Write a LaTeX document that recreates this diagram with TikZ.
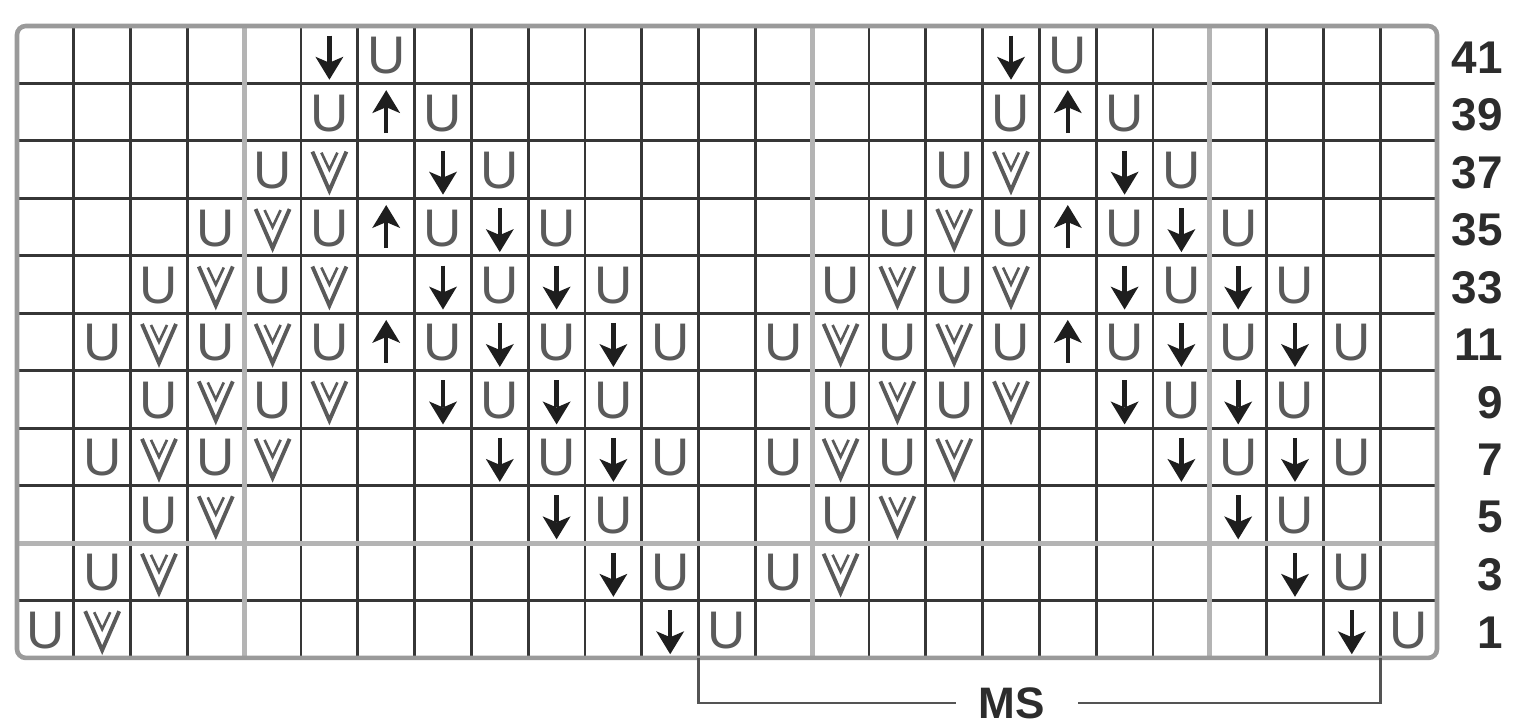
\documentclass[tikz,border=0pt]{standalone}
\usepackage{fontspec}
\setmainfont{Liberation Sans}
\usetikzlibrary{calc}
\definecolor{gridc}{HTML}{363636}
\definecolor{graylc}{HTML}{B4B4B4}
\definecolor{borderc}{HTML}{9A9A9A}
\definecolor{symc}{HTML}{5A5A5A}
\definecolor{arrc}{HTML}{1E1E1E}
\definecolor{labc}{HTML}{2C2C2C}
\tikzset{
  gridline/.style={draw=gridc, line width=1.6pt},
  grayline/.style={draw=graylc, line width=2.8pt},
  borderline/.style={draw=borderc, line width=2.6pt, rounded corners=5},
  usym/.style={text=symc, inner sep=0pt, font=\fontsize{30}{30}\selectfont},
  vsym/.style={draw=symc, line width=2.2pt, line join=miter},
  vinner/.style={draw=symc, line width=1.5pt},
  arrstem/.style={draw=arrc, line width=2.6pt},
  arrhead/.style={fill=arrc},
  rowlab/.style={text=labc, anchor=east, inner sep=0pt, font=\bfseries\fontsize{26}{26}\selectfont},
  mslab/.style={text=labc, inner sep=0pt, font=\bfseries\fontsize{25}{25}\selectfont},
  msline/.style={draw=gridc!85, line width=1.6pt}
}
\begin{document}
\begin{tikzpicture}[x=0.5669pt,y=-0.5669pt]
\useasboundingbox[fill=white] (0,0) rectangle (1519,727);
\def\X{17}\def\W{56.8}\def\Y{26}\def\H{57.45}
% grid
\foreach \i in {1,...,24}
  \draw[gridline] ({\X+\W*\i},\Y) -- ({\X+\W*\i},{\Y+11*\H});
\foreach \j in {1,...,10}
  \draw[gridline] (\X,{\Y+\H*\j}) -- ({\X+25*\W},{\Y+\H*\j});
\foreach \i in {4,14,21}
  \draw[grayline] ({\X+\W*\i},\Y) -- ({\X+\W*\i},{\Y+11*\H});
\draw[grayline] (\X,{\Y+\H*9}) -- ({\X+25*\W},{\Y+\H*9});
\draw[borderline] (\X,\Y) rectangle ({\X+25*\W},{\Y+11*\H});
% U symbols
\foreach \r/\cs in {1/{7,19},2/{6,8,18,20},3/{5,9,17,21},4/{4,6,8,10,16,18,20,22},
  5/{3,5,9,11,15,17,21,23},6/{2,4,6,8,10,12,14,16,18,20,22,24},7/{3,5,9,11,15,17,21,23},
  8/{2,4,10,12,14,16,22,24},9/{3,11,15,23},10/{2,12,14,24},11/{1,13,25}}
  \foreach \c in \cs
    \node[usym] (U-\r-\c) at ({\X+\W*(\c-0.5)},{\Y+\H*(\r-0.5)+1}) {U};
% V symbols
\foreach \r/\cs in {3/{6,18},4/{5,17},5/{4,6,16,18},6/{3,5,15,17},7/{4,6,16,18},
  8/{3,5,15,17},9/{4,16},10/{3,15},11/{2}}
  \foreach \c in \cs {
    \draw[vsym, shift={({\X+\W*(\c-0.5)},{\Y+\H*(\r-0.5)})}]
      (-17,-18) -- (0,21) -- (17,-18);
    \draw[vinner, shift={({\X+\W*(\c-0.5)},{\Y+\H*(\r-0.5)})}]
      (-8,-17) -- (0,0) -- (8,-17);
  }
% down arrows
\foreach \r/\cs in {1/{6,18},3/{8,20},4/{9,21},5/{8,10,20,22},6/{9,11,21,23},
  7/{8,10,20,22},8/{9,11,21,23},9/{10,22},10/{11,23},11/{12,24}}
  \foreach \c in \cs {
    \draw[arrstem, shift={({\X+\W*(\c-0.5)},{\Y+\H*(\r-0.5)})}] (0,-19) -- (0,8);
    \fill[arrhead, shift={({\X+\W*(\c-0.5)},{\Y+\H*(\r-0.5)})}]
      (0,25) -- (-14,2) -- (0,8) -- (14,2) -- cycle;
  }
% up arrows
\foreach \r/\cs in {2/{7,19},4/{7,19},6/{7,19}}
  \foreach \c in \cs {
    \draw[arrstem, shift={({\X+\W*(\c-0.5)},{\Y+\H*(\r-0.5)})}] (0,21) -- (0,-6);
    \fill[arrhead, shift={({\X+\W*(\c-0.5)},{\Y+\H*(\r-0.5)})}]
      (0,-22) -- (-14,1) -- (0,-5) -- (14,1) -- cycle;
  }
% row labels
\foreach \r/\t in {1/41,2/39,3/37,4/35,5/33,6/11,7/9,8/7,9/5,10/3,11/1}
  \node[rowlab] (row-\r) at (1503,{\Y+\H*(\r-0.5)+3}) {\t};
% MS bracket
\node[mslab] (ms) at (1012,703) {MS};
\coordinate (msL) at ({\X+12*\W},{\Y+11*\H});
\coordinate (msR) at ({\X+24*\W},{\Y+11*\H});
\draw[msline] (msL) |- ($(ms.west)+(-23,0)$);
\draw[msline] (msR) |- ($(ms.east)+(33,0)$);
\end{tikzpicture}
\end{document}
